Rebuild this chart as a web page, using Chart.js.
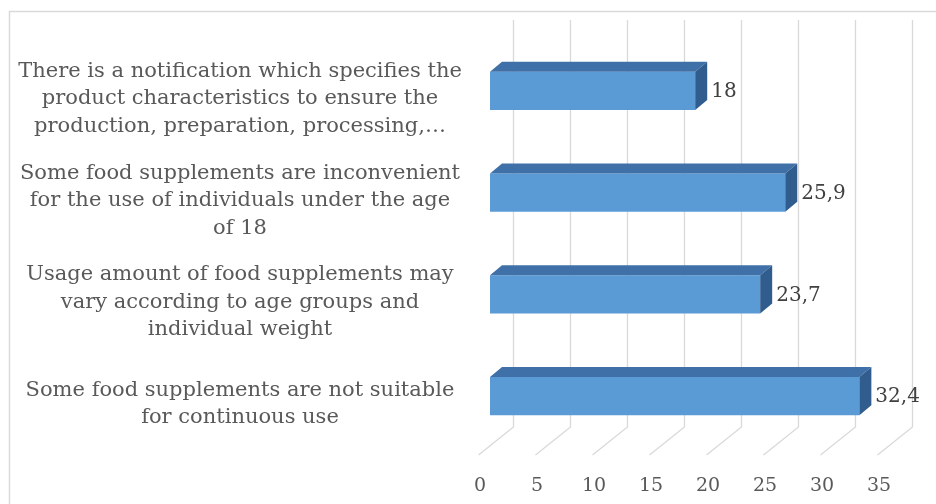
<!DOCTYPE html>
<html lang="en">
<head>
    <meta charset="UTF-8" />
    <title>Food supplements</title>
    <script src="https://cdn.jsdelivr.net/npm/chart.js"></script>
    <style>
        html, body { margin: 0; padding: 0; background: #fff; }
        #wrap { width: 936px; height: 504px; }
    </style>
</head>
<body>
    <div id="wrap"><canvas id="barChart"></canvas></div>

    <script>
        const categories = [
            ["There is a notification which specifies the", "product characteristics to ensure the", "production, preparation, processing,\u2026"],
            ["Some food supplements are inconvenient", "for the use of individuals under the age", "of 18"],
            ["Usage amount of food supplements may", "vary according to age groups and", "individual weight"],
            ["Some food supplements are not suitable", "for continuous use"]
        ];
        const values = [18, 25.9, 23.7, 32.4];
        const valueLabels = ["18", "25,9", "23,7", "32,4"];
        const xTicks = [0, 5, 10, 15, 20, 25, 30, 35];

        const fontFamily = "'DejaVu Serif', serif";
        const catFont = '21px ' + fontFamily;
        const valueFont = '20px ' + fontFamily;
        const textColor = '#595959';

        // measure widest label line so the labels can be centred around x=240
        const mctx = document.createElement('canvas').getContext('2d');
        mctx.font = catFont;
        let widest = 0;
        categories.forEach(lines => lines.forEach(l => { widest = Math.max(widest, mctx.measureText(l).width); }));
        const yPad = Math.max(4, 250 - widest / 2);

        const depth = { dx: 12, dy: -10 };     // bar 3d offset
        const wall = { dx: 23, top: 20, bottom: 427 };
        const floor = { dx: -35, dy: 28 };

        const threeD = {
            id: 'threeD',
            beforeDraw(chart) {
                const ctx = chart.ctx;
                ctx.save();
                ctx.strokeStyle = '#d9d9d9';
                ctx.lineWidth = 1.5;
                ctx.strokeRect(9.5, 11.5, 1000, 1000);
                const xs = chart.scales.x;
                ctx.lineWidth = 1.3;
                xTicks.forEach(v => {
                    const xb = Math.round(xs.getPixelForValue(v) + wall.dx) + 0.5;
                    ctx.beginPath();
                    ctx.moveTo(xb, wall.top);
                    ctx.lineTo(xb, wall.bottom);
                    ctx.lineTo(xb + floor.dx, wall.bottom + floor.dy);
                    ctx.stroke();
                });
                ctx.restore();
            },
            afterDatasetsDraw(chart) {
                const ctx = chart.ctx;
                const meta = chart.getDatasetMeta(0);
                ctx.save();
                meta.data.forEach((bar, i) => {
                    const h = bar.height;
                    const top = bar.y - h / 2, bottom = bar.y + h / 2;
                    const left = bar.base, right = bar.x;
                    // top face
                    ctx.fillStyle = '#3f70a8';
                    ctx.beginPath();
                    ctx.moveTo(left, top);
                    ctx.lineTo(left + depth.dx, top + depth.dy);
                    ctx.lineTo(right + depth.dx, top + depth.dy);
                    ctx.lineTo(right, top);
                    ctx.closePath();
                    ctx.fill();
                    // side face
                    ctx.fillStyle = '#305d8e';
                    ctx.beginPath();
                    ctx.moveTo(right, top);
                    ctx.lineTo(right + depth.dx, top + depth.dy);
                    ctx.lineTo(right + depth.dx, bottom + depth.dy);
                    ctx.lineTo(right, bottom);
                    ctx.closePath();
                    ctx.fill();
                    // value label
                    ctx.fillStyle = '#404040';
                    ctx.font = valueFont;
                    ctx.textAlign = 'left';
                    ctx.textBaseline = 'middle';
                    ctx.fillText(valueLabels[i], right + depth.dx + 4, bar.y + 1);
                });
                ctx.restore();
            }
        };

        new Chart(document.getElementById('barChart'), {
            type: 'bar',
            data: {
                labels: categories,
                datasets: [{
                    data: values,
                    backgroundColor: '#5b9bd5',
                    borderWidth: 0,
                    categoryPercentage: 1,
                    barPercentage: 0.375
                }]
            },
            options: {
                indexAxis: 'y',
                responsive: true,
                maintainAspectRatio: false,
                animation: false,
                layout: { padding: { top: 40, right: 47, bottom: 0, left: 0 } },
                plugins: { legend: { display: false }, tooltip: { enabled: false } },
                scales: {
                    x: {
                        min: 0,
                        max: 35,
                        afterFit(scale) { scale.height = 57; scale.paddingLeft = 0; scale.paddingRight = 0; },
                        afterBuildTicks(scale) { scale.ticks = xTicks.map(v => ({ value: v })); },
                        grid: { display: false },
                        border: { display: false },
                        ticks: {
                            color: textColor,
                            font: { family: fontFamily, size: 19 },
                            padding: 20,
                            labelOffset: -10,
                            maxRotation: 0
                        }
                    },
                    y: {
                        afterFit(scale) { scale.width = 490; scale.paddingTop = 0; scale.paddingBottom = 0; },
                        grid: { display: false, drawTicks: false },
                        border: { display: false },
                        ticks: {
                            color: textColor,
                            font: { family: fontFamily, size: 21, lineHeight: 1.31 },
                            crossAlign: 'center',
                            padding: yPad,
                            labelOffset: 8
                        }
                    }
                }
            },
            plugins: [threeD]
        });
    </script>
</body>
</html>
